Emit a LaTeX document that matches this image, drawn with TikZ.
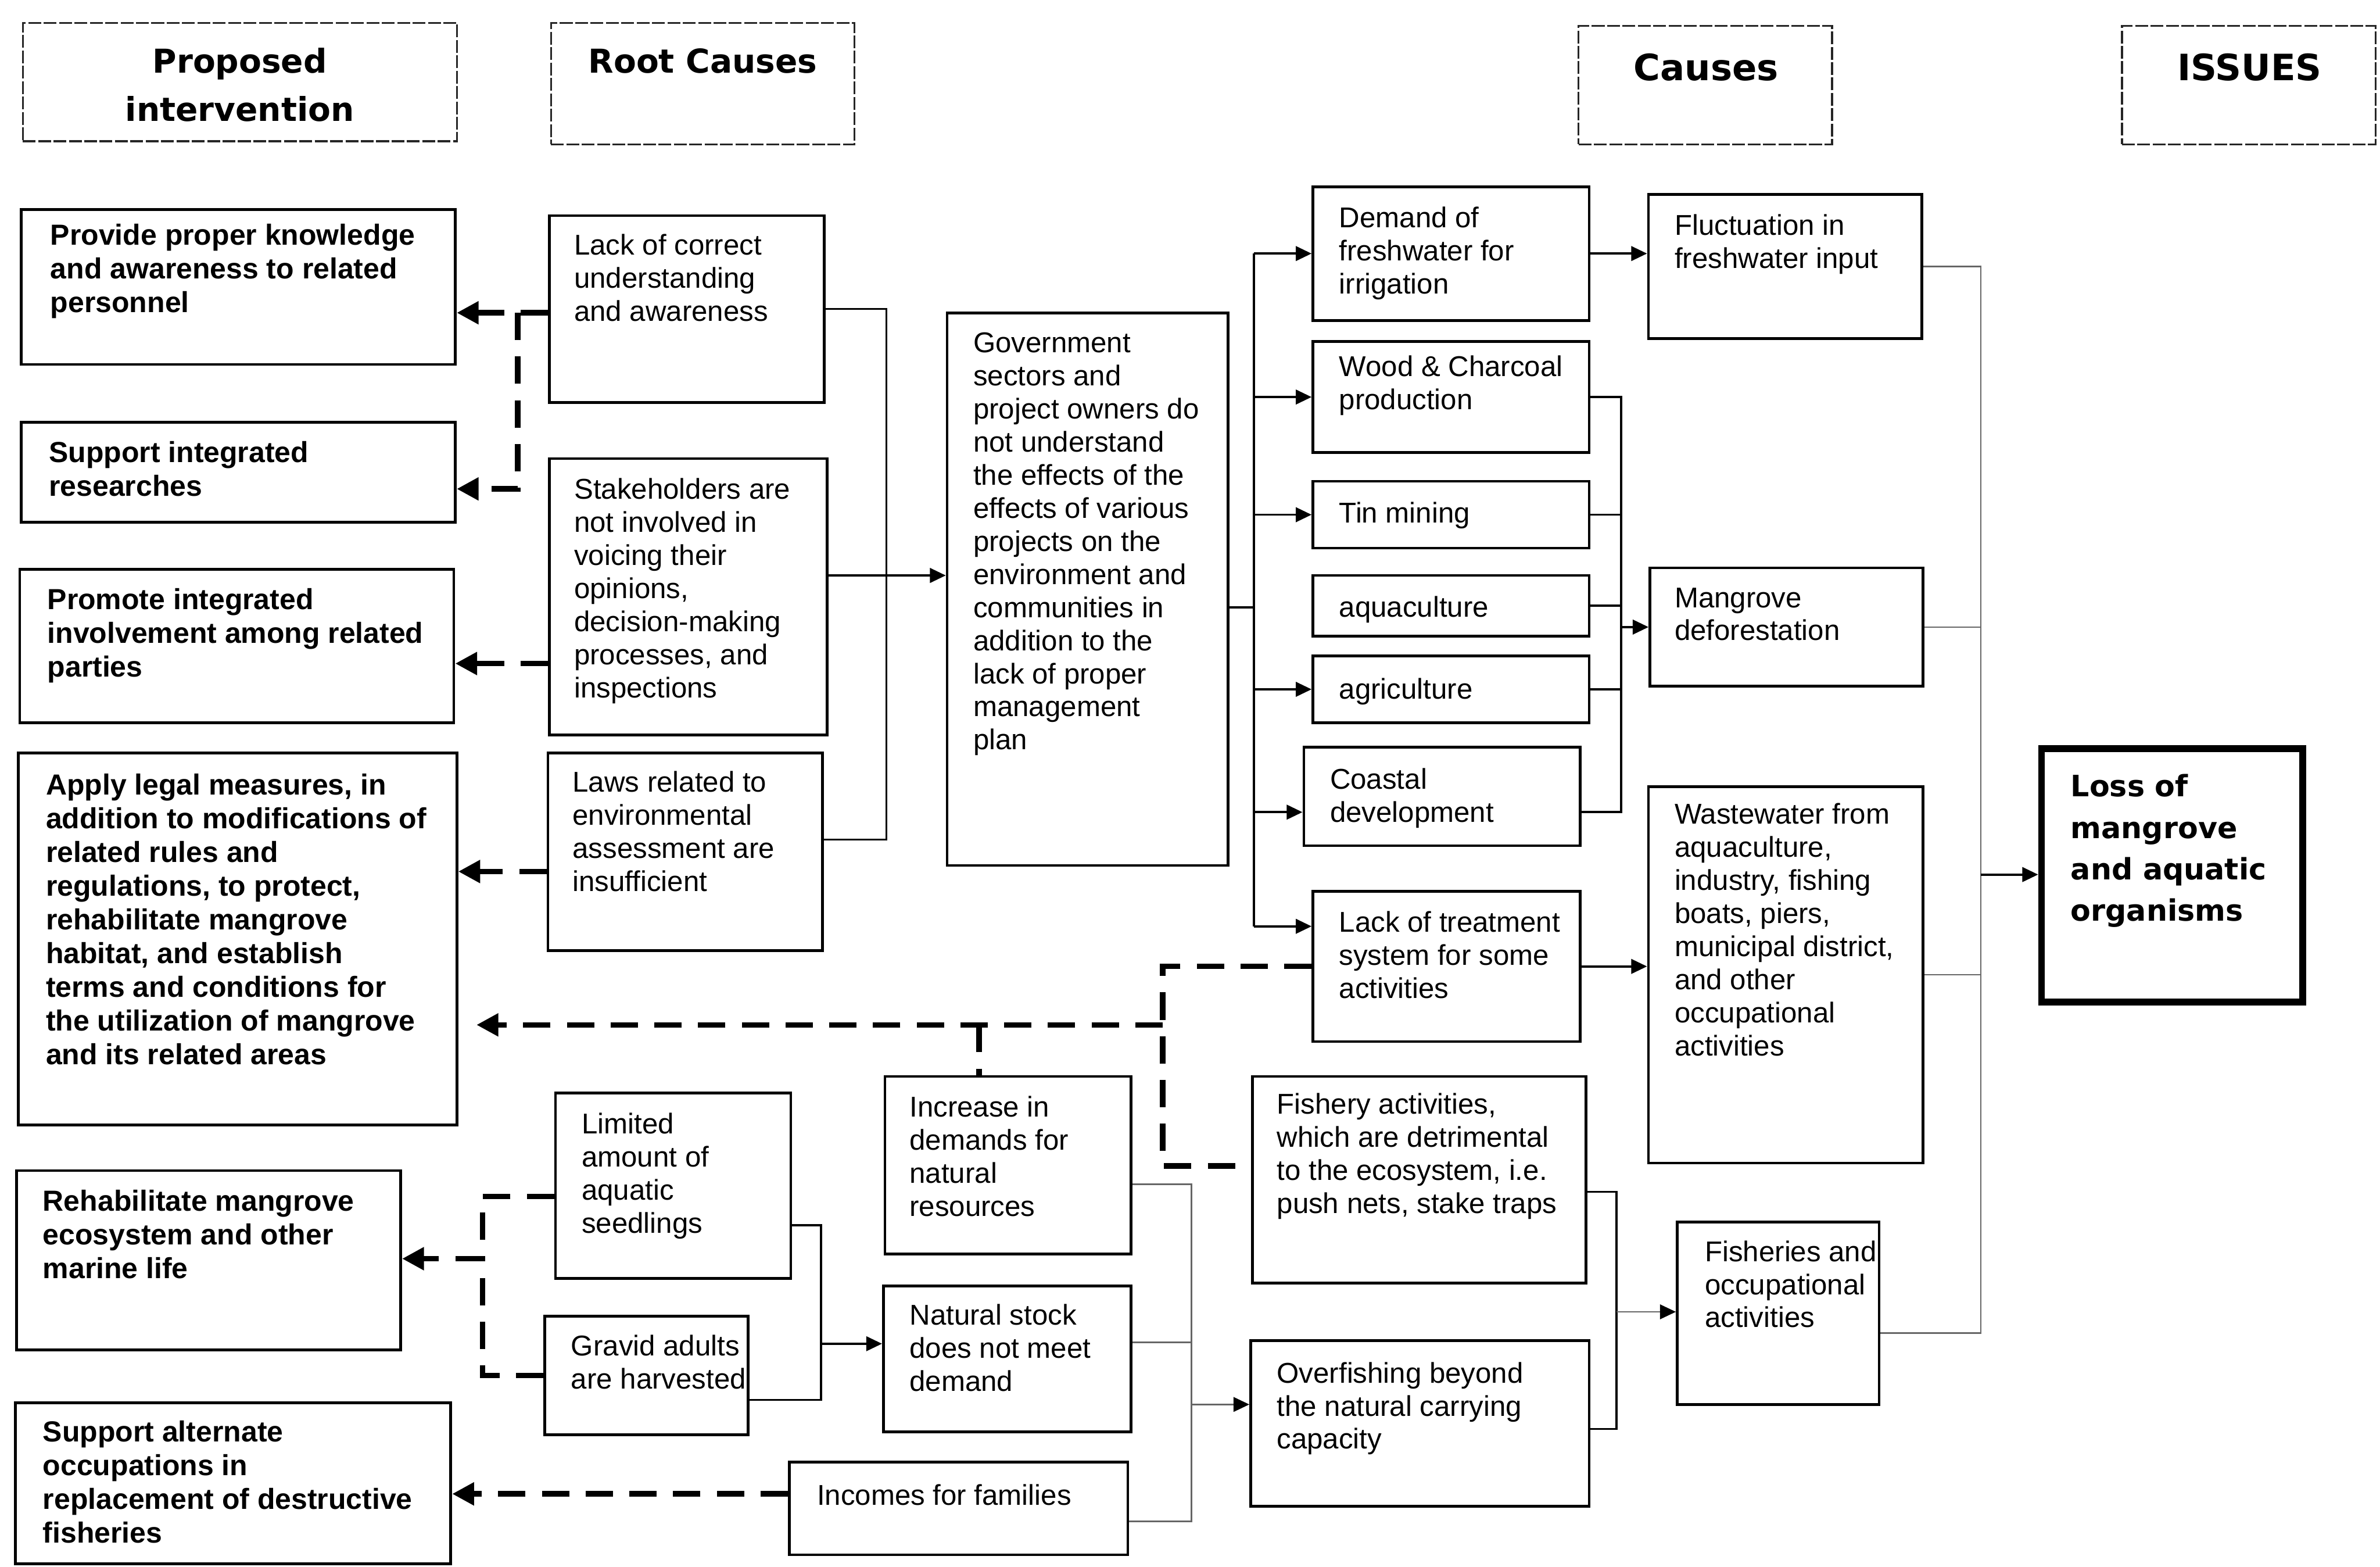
\documentclass[tikz,border=0pt]{standalone}
\usepackage{fontspec}
\setmainfont{Liberation Sans}
\newfontfamily\headfont{DejaVu Sans}
\usetikzlibrary{arrows.meta,fit,calc}

\tikzset{
  box/.style={draw, line width=1.3pt, inner sep=0pt},
  hbox/.style={draw, line width=0.9pt, black!85, dash pattern=on 6pt off 1.2pt, inner sep=0pt},
  lossbox/.style={draw, line width=3.2pt, inner sep=0pt},
  txt/.style={anchor=north west, inner sep=0pt, align=left, yshift=-0.045cm,
    font=\fontsize{13.4}{15.5}\selectfont, execute at begin node=\strut},
  btxt/.style={txt, font=\bfseries\fontsize{13.6}{15.8}\selectfont},
  losstxt/.style={txt, font=\headfont\bfseries\fontsize{13.8}{19.4}\selectfont},
  htxt/.style={anchor=base, inner sep=0pt, font=\headfont\bfseries\fontsize{15.4}{20}\selectfont},
  hbig/.style={htxt, font=\headfont\bfseries\fontsize{17}{20}\selectfont},
  conn/.style={line width=1pt},
  faint/.style={line width=0.7pt, black!60},
  arr/.style={conn, -{Triangle[length=0.26cm, width=0.24cm]}},
  farr/.style={faint, -{Triangle[length=0.26cm, width=0.24cm, color=black]}},
  dashl/.style={line width=2.6pt, dash pattern=on 0.45cm off 0.27cm},
  dasharr/.style={dashl, -{Triangle[length=0.36cm, width=0.36cm]}},
}

\begin{document}
\begin{tikzpicture}[x=0.025cm, y=-0.025cm]
\useasboundingbox (0,0) rectangle (1568,1032);
\fill[white] (0,0) rectangle (1568,1032);

% ---------- column headers ----------
\node[hbox, fit={(15,15) (301,93)}] (h1) {};
\node[hbox, fit={(363,15) (563,95)}] (h2) {};
\node[hbox, fit={(1040,17) (1207,95)}] (h3) {};
\node[hbox, fit={(1398,17) (1565,95)}] (h4) {};
\node[htxt] (h1a) at (158,48) {Proposed};
\node[htxt] (h1b) at (158,80) {intervention};
\node[htxt] (h2a) at (463,48) {Root Causes};
\node[hbig] (h3a) at (1124,53) {Causes};
\node[hbig] (h4a) at (1482,53) {ISSUES};

% ---------- proposed interventions ----------
\node[box, fit={(14,138) (300,240)}] (p1) {};
\node[btxt] (p1t) at (33,145.5) {Provide proper knowledge\\and awareness to related\\personnel};
\node[box, fit={(14,278) (300,344)}] (p2) {};
\node[btxt] (p2t) at (32,288.5) {Support integrated\\researches};
\node[box, fit={(13,375) (299,476)}] (p3) {};
\node[btxt] (p3t) at (31,385.5) {Promote integrated\\involvement among related\\parties};
\node[box, fit={(12,496) (301,741)}] (p4) {};
\node[btxt] (p4t) at (30,507.5) {Apply legal measures, in\\addition to modifications of\\related rules and\\regulations, to protect,\\rehabilitate mangrove\\habitat, and establish\\terms and conditions for\\the utilization of mangrove\\and its related areas};
\node[box, fit={(11,771) (264,889)}] (p5) {};
\node[btxt] (p5t) at (28,781.5) {Rehabilitate mangrove\\ecosystem and other\\marine life};
\node[box, fit={(10,924) (297,1030)}] (p6) {};
\node[btxt] (p6t) at (28,933.5) {Support alternate\\occupations in\\replacement of destructive\\fisheries};

% ---------- root causes ----------
\node[box, fit={(362,142) (543,265)}] (r1) {};
\node[txt] (r1t) at (378,152) {Lack of correct\\understanding\\and awareness};
\node[box, fit={(362,302) (545,484)}] (r2) {};
\node[txt] (r2t) at (378,313) {Stakeholders are\\not involved in\\voicing their\\opinions,\\decision-making\\processes, and\\inspections};
\node[box, fit={(361,496) (542,626)}] (r3) {};
\node[txt] (r3t) at (377,506) {Laws related to\\environmental\\assessment are\\insufficient};
\node[box, fit={(624,206) (809,570)}] (g) {};
\node[txt] (gt) at (641,217) {Government\\sectors and\\project owners do\\not understand\\the effects of the\\effects of various\\projects on the\\environment and\\communities in\\addition to the\\lack of proper\\management\\plan};

\node[box, fit={(366,720) (521,842)}] (l1) {};
\node[txt] (l1t) at (383,731) {Limited\\amount of\\aquatic\\seedlings};
\node[box, fit={(359,867) (493,945)}] (l2) {};
\node[txt] (l2t) at (376,877) {Gravid adults\\are harvested};
\node[box, fit={(583,709) (745,826)}] (n1) {};
\node[txt] (n1t) at (599,720) {Increase in\\demands for\\natural\\resources};
\node[box, fit={(582,847) (745,943)}] (n2) {};
\node[txt] (n2t) at (599,857) {Natural stock\\does not meet\\demand};
\node[box, fit={(520,963) (743,1024)}] (n3) {};
\node[txt] (n3t) at (538,974) {Incomes for families};

% ---------- causes ----------
\node[box, fit={(865,123) (1047,211)}] (c1) {};
\node[txt] (c1t) at (882,134) {Demand of\\freshwater for\\irrigation};
\node[box, fit={(865,225) (1047,298)}] (c2) {};
\node[txt] (c2t) at (882,232) {Wood \& Charcoal\\production};
\node[box, fit={(865,317) (1047,361)}] (c3) {};
\node[txt] (c3t) at (882,327) {Tin mining};
\node[box, fit={(865,379) (1047,419)}] (c4) {};
\node[txt] (c4t) at (882,389) {aquaculture};
\node[box, fit={(865,432) (1047,476)}] (c5) {};
\node[txt] (c5t) at (882,443) {agriculture};
\node[box, fit={(859,492) (1041,557)}] (c6) {};
\node[txt] (c6t) at (876,504) {Coastal\\development};
\node[box, fit={(865,587) (1041,686)}] (c7) {};
\node[txt] (c7t) at (882,598) {Lack of treatment\\system for some\\activities};
\node[box, fit={(825,709) (1045,845)}] (f1) {};
\node[txt] (f1t) at (841,718) {Fishery activities,\\which are detrimental\\to the ecosystem, i.e.\\push nets, stake traps};
\node[box, fit={(824,883) (1047,992)}] (f2) {};
\node[txt] (f2t) at (841,895) {Overfishing beyond\\the natural carrying\\capacity};

% ---------- issues ----------
\node[box, fit={(1086,128) (1266,223)}] (i1) {};
\node[txt] (i1t) at (1103,139) {Fluctuation in\\freshwater input};
\node[box, fit={(1087,374) (1267,452)}] (i2) {};
\node[txt] (i2t) at (1103,385) {Mangrove\\deforestation};
\node[box, fit={(1086,518) (1267,766)}] (i3) {};
\node[txt] (i3t) at (1103,527) {Wastewater from\\aquaculture,\\industry, fishing\\boats, piers,\\municipal district,\\and other\\occupational\\activities};
\node[box, fit={(1105,805) (1238,925)}] (i4) {};
\node[txt] (i4t) at (1123,815) {Fisheries and\\occupational\\activities};
\node[lossbox, fit={(1345,493) (1517,660)}] (loss) {};
\node[losstxt] (losst) at (1364,508) {Loss of\\mangrove\\and aquatic\\organisms};

% ---------- junction points ----------
\coordinate (rb) at (584,379);
\coordinate (gb) at (826,400);
\coordinate (db) at (1068,413);
\coordinate (lb) at (1305,576);
\coordinate (fb) at (1065,864);
\coordinate (jl) at (541,885);
\coordinate (nb) at (785,925);
\coordinate (ja) at (341,206);
\coordinate (jb) at (341,322);
\coordinate (jc) at (766,675);
\coordinate (jd) at (766,768);
\coordinate (jn) at (645,675);
\coordinate (je) at (318,829);
\coordinate (r3o) at ([yshift=0.2cm]r3.east);
\coordinate (c7in) at ([yshift=0.66cm]c7.west);
\coordinate (c6in) at ([yshift=-0.26cm]c6.west);
\coordinate (c6o) at ([yshift=-0.26cm]c6.east);
\coordinate (i4o) at ([yshift=-0.325cm]i4.east);
\coordinate (f1o) at ([yshift=-0.2cm]f1.east);
\coordinate (f2o) at ([yshift=-0.09cm]f2.east);
\coordinate (l1o) at ([yshift=-0.65cm]l1.east);
\coordinate (l2o) at ([yshift=-0.4cm]l2.east);
\coordinate (n1o) at ([yshift=-0.31cm]n1.east);
\coordinate (n2o) at ([yshift=0.275cm]n2.east);
\coordinate (n3o) at ([yshift=-0.21cm]n3.east);
\coordinate (r2w) at ([yshift=-1.1cm]r2.west);
\coordinate (r3w) at ([yshift=-0.325cm]r3.west);
\coordinate (l1w) at ([yshift=-0.175cm]l1.west);
\coordinate (n3w) at ([yshift=0.24cm]n3.west);

% ---------- solid connectors ----------
\draw[conn] (r1.east) -| (rb);
\draw[conn] (r3o) -| (rb);
\draw[arr] (r2.east |- rb) -- (g.west |- rb);

\draw[conn] (g.east |- gb) -- (gb);
\draw[conn] (gb |- c1.west) -- (gb |- c7in);
\foreach \n in {c1,c2,c3,c5}
  \draw[arr] (gb |- \n.west) -- (\n.west);
\draw[arr] (gb |- c6in) -- (c6in);
\draw[arr] (gb |- c7in) -- (c7in);

\draw[arr] (c1.east) -- (c1.east -| i1.west);
\draw[conn] (c2.east) -| (db);
\draw[conn] (c6o) -| (db);
\foreach \n in {c3,c4,c5}
  \draw[conn] (\n.east) -- (\n.east -| db);
\draw[arr] (db) -- (db -| i2.west);
\draw[arr] (c7.east) -- (c7.east -| i3.west);

\draw[faint] (i1.east) -| (lb);
\draw[faint] (i4o) -| (lb);
\draw[faint] (i2.east) -- (i2.east -| lb);
\draw[faint] (i3.east) -- (i3.east -| lb);
\draw[arr] (lb) -- (lb -| loss.west);

\draw[conn] (f1o) -| (fb);
\draw[conn] (f2o) -| (fb);
\draw[farr] (fb) -- (fb -| i4.west);

\draw[conn] (l1o) -| (jl);
\draw[conn] (l2o) -| (jl);
\draw[arr] (jl) -- (jl -| n2.west);

\draw[faint] (n1o) -| (nb);
\draw[faint] (n3o) -| (nb);
\draw[faint] (n2o) -- (n2o -| nb);
\draw[farr] (nb) -- (nb -| f2.west);

% ---------- dashed links to interventions ----------
\draw[dasharr] (r1.west |- ja) -- (p1.east |- ja);
\draw[dasharr] (ja) -- (jb) -- (p2.east |- jb);
\draw[dasharr] (r2w) -- (r2w -| p3.east);
\draw[dasharr] (r3w) -- (r3w -| p4.east);
\draw[dashl] (c7.west) -| (jd) -- (f1.west |- jd);
\draw[dasharr, shorten >=0.3cm] (jc) -- (p4.east |- jc);
\draw[dashl] (jn) -- (jn |- n1.north);
\draw[dashl] (l1w) -| (je);
\draw[dashl] (l2.west) -| (je);
\draw[dasharr] (je) -- (p5.east |- je);
\draw[dasharr] (n3w) -- (n3w -| p6.east);
\end{tikzpicture}
\end{document}
